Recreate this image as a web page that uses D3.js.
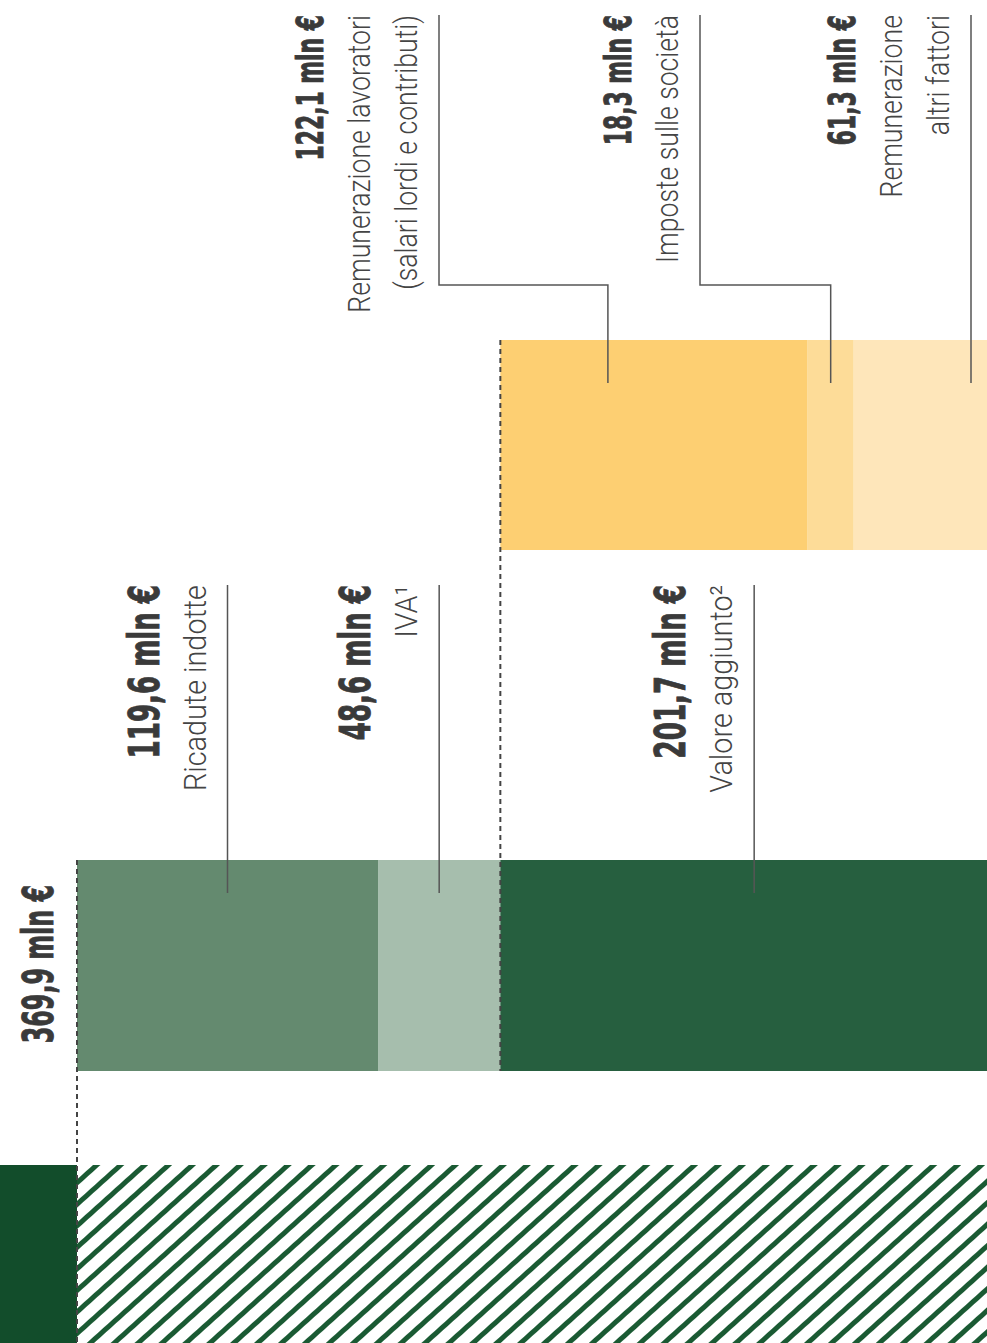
<!DOCTYPE html>
<meta charset="utf-8">
<style>
  body { margin: 0; background: #fff; }
  .val { font-family: "DejaVu Sans Condensed", "DejaVu Sans", sans-serif; font-weight: bold; fill: #3a3a3a; stroke: #3a3a3a; stroke-width: 0.9px; }
  .lab { font-family: Roboto, "Open Sans", sans-serif; font-weight: 300; fill: #444; }
</style>
<body>
<script src="https://d3js.org/d3.v7.min.js"></script>
<script>

// dati (mln €)
var totale = 369.9;
var primoLivello = ["Ricadute indotte", "IVA", "Valore aggiunto"];
var primoValori = [119.6, 48.6, 201.7];
var primoNote = ["", "¹", "²"];
var secondoLivello = [["Remunerazione lavoratori", "(salari lordi e contributi)"], ["Imposte sulle società"], ["Remunerazione", "altri fattori"]];
var secondoValori = [122.1, 18.3, 61.3];

var primoColori = ["#648a6f", "#a6bead", "#265f3f"];
var secondoColori = ["#fdcf72", "#fddc98", "#fee6ba"];

var width = 987,
    height = 1343;

var it = d3.formatLocale({decimal: ",", thousands: ".", grouping: [3], currency: ["", "€"]});
var fmt = function(v) { return it.format(".1f")(v) + " mln €"; };

var x = d3.scaleLinear().domain([0, totale]).range([77, 1008]);

// righe (dall'alto)
var rowTop = {secondo: 340, primo: 860, base: 1165};
var rowH = 211;

var svg = d3.select("body").append("svg")
    .attr("width", width)
    .attr("height", height);

var defs = svg.append("defs");
var pat = defs.append("pattern")
    .attr("id", "hatch")
    .attr("patternUnits", "userSpaceOnUse")
    .attr("width", 16)
    .attr("height", 16)
    .attr("patternTransform", "rotate(48)");
pat.append("rect").attr("width", 16).attr("height", 16).attr("fill", "#fff");
pat.append("rect").attr("width", 5).attr("height", 16).attr("fill", "#1a5a33");

// cumulati
var primoStart = primoValori.map(function(v, i) { return d3.sum(primoValori.slice(0, i)); });
var vaStart = primoStart[2];
var secondoStart = secondoValori.map(function(v, i) { return vaStart + d3.sum(secondoValori.slice(0, i)); });

// base
svg.append("rect")
    .attr("x", 0).attr("y", rowTop.base)
    .attr("width", x(0)).attr("height", height - rowTop.base)
    .attr("fill", "#124d2b");
svg.append("rect")
    .attr("x", x(0)).attr("y", rowTop.base)
    .attr("width", x(totale) - x(0)).attr("height", height - rowTop.base)
    .attr("fill", "url(#hatch)");

// barre primo livello
svg.selectAll(".b1")
    .data(primoValori)
    .enter().append("rect")
    .attr("class", "b1")
    .attr("x", function(d, i) { return x(primoStart[i]); })
    .attr("y", rowTop.primo)
    .attr("width", function(d) { return x(d) - x(0); })
    .attr("height", rowH)
    .attr("fill", function(d, i) { return primoColori[i]; });

// barre secondo livello
svg.selectAll(".b2")
    .data(secondoValori)
    .enter().append("rect")
    .attr("class", "b2")
    .attr("x", function(d, i) { return x(secondoStart[i]); })
    .attr("y", rowTop.secondo)
    .attr("width", function(d) { return x(d) - x(0); })
    .attr("height", rowH - 1)
    .attr("fill", function(d, i) { return secondoColori[i]; });

// linee tratteggiate
var dash = function(xx, y1, y2) {
  svg.append("line")
      .attr("x1", xx).attr("x2", xx)
      .attr("y1", y1).attr("y2", y2)
      .attr("stroke", "#444")
      .attr("stroke-width", 2)
      .attr("stroke-dasharray", "5,4");
};
dash(x(0), rowTop.primo, height);
dash(x(vaStart), rowTop.secondo, rowTop.primo + rowH);

// etichette ruotate
function block(lineX, yEnd, value, lines, note, vSize, vScale, lScale) {
  var n = lines.length;
  var g = svg.append("g").attr("transform", "translate(" + lineX + "," + yEnd + ") rotate(-90)");
  g.append("text")
      .attr("class", "val")
      .attr("text-anchor", "end")
      .attr("y", -(22 + 47 * n))
      .attr("transform", "scale(" + vScale + ",1)")
      .style("font-size", vSize + "px")
      .text(fmt(value));
  lines.forEach(function(l, i) {
    var t = g.append("text")
        .attr("class", "lab")
        .attr("text-anchor", "end")
        .attr("y", -(22 + 47 * (n - 1 - i)))
        .attr("transform", "scale(" + lScale + ",1)")
        .style("font-size", "31px")
        .text(l);
    if (note && i == n - 1) t.append("tspan").text(note);
  });
}

function leader(points) {
  svg.append("path")
      .attr("d", d3.line()(points))
      .attr("fill", "none")
      .attr("stroke", "#555")
      .attr("stroke-width", 1.5);
}

// primo livello: etichette sopra il centro della barra
primoValori.forEach(function(v, i) {
  var cx = x(primoStart[i] + v / 2);
  block(cx, 585, v, [primoLivello[i]], primoNote[i], 42, 0.69, 0.93);
  leader([[cx, 585], [cx, rowTop.primo + 33]]);
});

// secondo livello: colonne di testo con linee a gomito
var colX = [439, 700, 971];
var aggancio = [0.35, 0.5, 0.76];
secondoValori.forEach(function(v, i) {
  var bx = x(secondoStart[i] + v * aggancio[i]);
  block(colX[i], 15, v, secondoLivello[i], "", 38, 0.64, 0.86);
  var pts = Math.abs(bx - colX[i]) < 1
      ? [[colX[i], 15], [colX[i], rowTop.secondo + 43]]
      : [[colX[i], 15], [colX[i], 285], [bx, 285], [bx, rowTop.secondo + 43]];
  leader(pts);
});

// totale
block(75, 885, totale, [], "", 42, 0.63, 1);

</script>
